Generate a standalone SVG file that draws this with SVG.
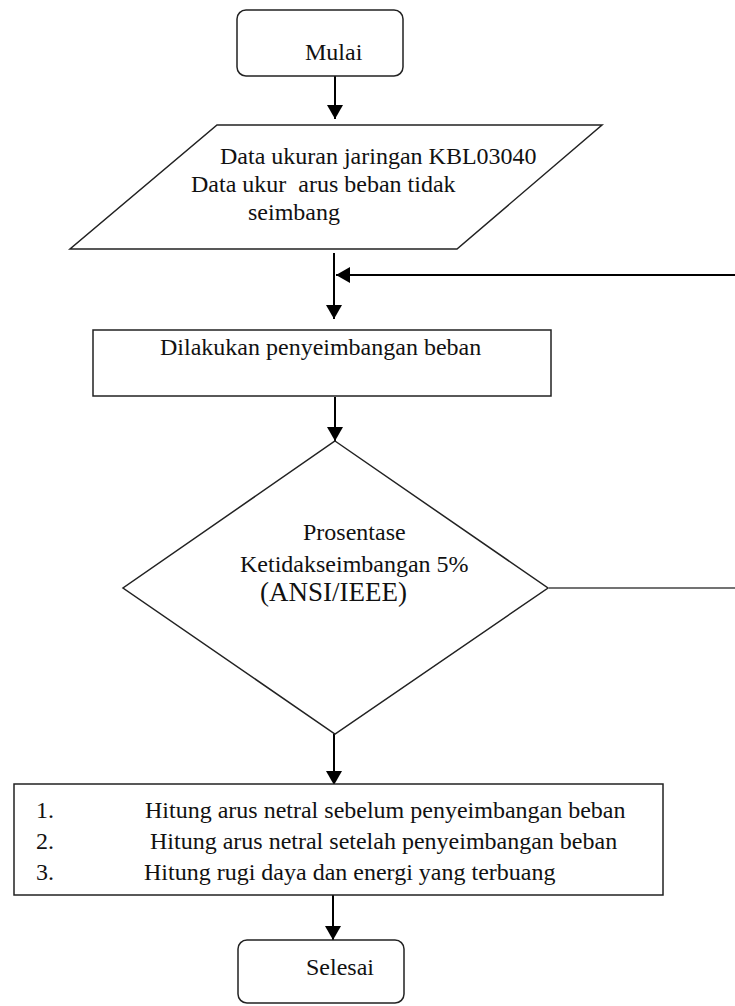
<svg xmlns="http://www.w3.org/2000/svg" width="735" height="1006" viewBox="0 0 735 1006">
<style>
.shape{fill:#fff;stroke:#222;stroke-width:1.5}
.t{font-family:"Liberation Serif","Times New Roman",serif;font-size:24px;fill:#111}
.big{font-size:27px}
.conn{stroke:#000;stroke-width:2;fill:none}
.thin{stroke:#444;stroke-width:1.5;fill:none}
</style>
<defs>
<marker id="ah" viewBox="0 0 14 16" refX="14" refY="8" markerWidth="14" markerHeight="16" markerUnits="userSpaceOnUse" orient="auto">
<path d="M0,0 L14,8 L0,16 Z" fill="#000"/>
</marker>
</defs>
<rect width="735" height="1006" fill="#fff"/>
<g id="connectors">
<line class="conn" x1="335" y1="76" x2="335" y2="119" marker-end="url(#ah)"/>
<line class="conn" x1="334" y1="253" x2="334" y2="319" marker-end="url(#ah)"/>
<line class="conn" x1="735" y1="275" x2="336" y2="275" marker-end="url(#ah)"/>
<line class="conn" x1="335" y1="397" x2="335" y2="441" marker-end="url(#ah)"/>
<line class="thin" x1="549" y1="588" x2="735" y2="588"/>
<line class="conn" x1="334" y1="734" x2="334" y2="785" marker-end="url(#ah)"/>
<line class="conn" x1="333" y1="895" x2="333" y2="940" marker-end="url(#ah)"/>
</g>
<g id="start">
<rect class="shape" x="237" y="10" width="166" height="66" rx="9"/>
<text class="t" x="305" y="60">Mulai</text>
</g>
<g id="input">
<polygon class="shape" points="217,125 602,125 457,249 70,249"/>
<text class="t" x="220" y="164">Data ukuran jaringan KBL03040</text>
<text class="t" x="191" y="192" style="white-space:pre">Data ukur  arus beban tidak</text>
<text class="t" x="248" y="220">seimbang</text>
</g>
<g id="process">
<rect class="shape" x="93" y="330" width="458" height="66"/>
<text class="t" x="160" y="355">Dilakukan penyeimbangan beban</text>
</g>
<g id="decision">
<polygon class="shape" points="335,441 548,588 335,734 123,588"/>
<text class="t" x="303" y="540">Prosentase</text>
<text class="t" x="240" y="572">Ketidakseimbangan 5%</text>
<text class="t big" x="260" y="601">(ANSI/IEEE)</text>
</g>
<g id="calc">
<rect class="shape" x="14" y="784" width="649" height="111"/>
<text class="t" x="36" y="818">1.</text>
<text class="t" x="145" y="818">Hitung arus netral sebelum penyeimbangan beban</text>
<text class="t" x="36" y="849">2.</text>
<text class="t" x="150" y="849">Hitung arus netral setelah penyeimbangan beban</text>
<text class="t" x="36" y="880">3.</text>
<text class="t" x="144" y="880">Hitung rugi daya dan energi yang terbuang</text>
</g>
<g id="end">
<rect class="shape" x="238" y="940" width="166" height="63" rx="9"/>
<text class="t" x="306" y="975">Selesai</text>
</g>
</svg>
